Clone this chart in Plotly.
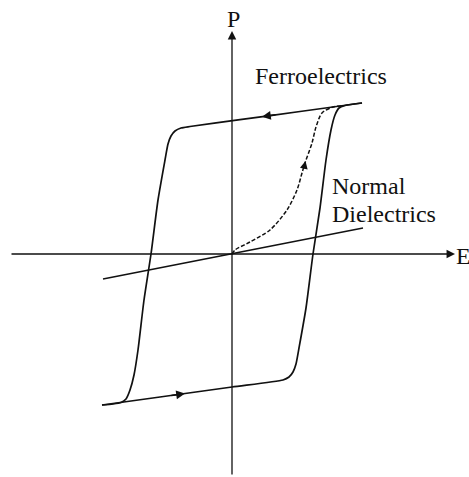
import plotly.graph_objects as go

# Polarization (P) versus field (E), arbitrary units
# Descending branch of the ferroelectric loop (from +saturation to -saturation)
E_down = [1.30, 0.68, 0.08, -0.42, -0.51, -0.57, -0.61, -0.64, -0.67, -0.74, -0.81,
          -0.88, -0.94, -0.98, -1.02, -1.06, -1.11, -1.19, -1.30]
P_down = [1.51, 1.425, 1.343, 1.275, 1.26, 1.23, 1.18, 1.10, 0.94, 0.54, 0.0,
          -0.46, -0.96, -1.21, -1.36, -1.45, -1.485, -1.50, -1.51]

# Ascending branch (from -saturation back to +saturation)
E_up = [-1.30, -0.72, 0.0, 0.51, 0.57, 0.61, 0.64, 0.67, 0.74, 0.81,
        0.88, 0.94, 0.99, 1.03, 1.07, 1.13, 1.30]
P_up = [-1.51, -1.43, -1.33, -1.26, -1.23, -1.18, -1.10, -0.94, -0.54, 0.0,
        0.46, 0.94, 1.24, 1.39, 1.46, 1.485, 1.51]

# Initial (virgin) polarization curve
E_virgin = [0.0, 0.03, 0.18, 0.38, 0.55, 0.65, 0.70, 0.73, 0.80, 0.84, 0.90, 1.01, 1.10]
P_virgin = [0.0, 0.04, 0.12, 0.24, 0.44, 0.64, 0.81, 0.91, 1.11, 1.27, 1.41, 1.47, 1.48]

# Linear response of a normal dielectric
E_linear = [-1.29, 1.31]
P_linear = [-0.25, 0.26]

# Extent of the E and P axes
axis_min, axis_max = -2.22, 2.23

FONT = "Liberation Serif, Times New Roman, serif"
BLACK = "#111111"

fig = go.Figure()

fig.add_trace(go.Scatter(x=E_down, y=P_down, mode="lines",
                         line=dict(color=BLACK, width=1.7, shape="spline", smoothing=0.6),
                         hoverinfo="skip"))
fig.add_trace(go.Scatter(x=E_up, y=P_up, mode="lines",
                         line=dict(color=BLACK, width=1.7, shape="spline", smoothing=0.6),
                         hoverinfo="skip"))
fig.add_trace(go.Scatter(x=E_virgin, y=P_virgin, mode="lines",
                         line=dict(color=BLACK, width=1.5, dash="4px,2px",
                                   shape="spline", smoothing=0.8),
                         hoverinfo="skip"))
fig.add_trace(go.Scatter(x=E_linear, y=P_linear, mode="lines",
                         line=dict(color=BLACK, width=1.5), hoverinfo="skip"))

def arrow(x, y, ax, ay, width=1.3, size=1.0):
    fig.add_annotation(x=x, y=y, ax=ax, ay=ay, xref="x", yref="y",
                       axref="x", ayref="y", text="", showarrow=True,
                       arrowhead=2, arrowsize=size, arrowwidth=width,
                       arrowcolor=BLACK)

# Axes with arrowheads
arrow(axis_max, 0, axis_min, 0, width=1.3, size=1.3)
arrow(0, axis_max, 0, axis_min, width=1.3, size=1.3)

# Direction arrows along the loop
arrow(0.30, 1.373, 0.45, 1.394, width=1.6, size=1.1)
arrow(-0.47, -1.396, -0.62, -1.417, width=1.6, size=1.1)
arrow(0.735, 0.93, 0.715, 0.84, width=1.3, size=1.2)

def label(text, x, y, xanchor="left"):
    fig.add_annotation(x=x, y=y, xref="x", yref="y", text=text, showarrow=False,
                       xanchor=xanchor, yanchor="middle",
                       font=dict(family=FONT, size=24, color=BLACK))

label("Ferroelectrics", 0.21, 1.785)
label("Normal", 0.98, 0.685)
label("Dielectrics", 0.98, 0.405)
label("P", 0.01, 2.355, xanchor="center")
label("E", 2.22, -0.015)

fig.update_layout(
    width=469, height=477,
    margin=dict(l=0, r=0, t=0, b=0),
    paper_bgcolor="white", plot_bgcolor="white",
    showlegend=False,
    xaxis=dict(range=[-2.32, 2.37], visible=False, fixedrange=True),
    yaxis=dict(range=[-2.23, 2.54], visible=False, fixedrange=True),
)

fig.write_html("out.html")
